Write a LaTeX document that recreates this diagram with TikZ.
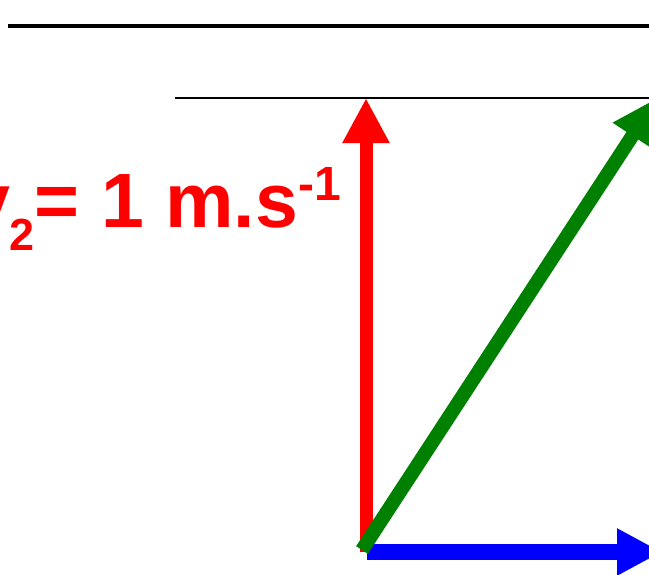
\documentclass[tikz,border=0pt]{standalone}
\usepackage{fontspec}
\setmainfont{Liberation Sans}
\usetikzlibrary{arrows.meta}
\definecolor{vred}{RGB}{255,0,0}
\definecolor{vgreen}{RGB}{0,128,0}
\definecolor{vblue}{RGB}{0,0,255}
\tikzset{vec/.style={-{Triangle[length=45pt,width=44pt]}}}
\begin{document}
\begin{tikzpicture}[x=1pt,y=-1pt]
\useasboundingbox (0,0) rectangle (649,574);
\clip (0,0) rectangle (649,574);
\coordinate (top1) at (8,26);
\coordinate (top2) at (660,26);
\coordinate (mid1) at (175,98);
\coordinate (mid2) at (660,98);
\coordinate (Ored) at (366,552);
\coordinate (Ogreen) at (362,550);
\coordinate (Oblue) at (367,552);
\coordinate (R) at (366,98);
\coordinate (G) at (657,98);
\coordinate (B) at (662,552);
\draw[line width=4pt] (top1) -- (top2);
\draw[line width=2pt] (mid1) -- (mid2);
\draw[vec, vred, line width=13pt] (Ored) -- (R);
\draw[vec, vblue, line width=16pt] (Oblue) -- (B);
\draw[vec, vgreen, line width=14pt] (Ogreen) -- (G);
\node[anchor=base east, text=vred, font=\bfseries\fontsize{77}{80}\selectfont, inner sep=0pt] (lbl) at (341,227) {v\raisebox{-23pt}{\fontsize{45}{45}\selectfont 2}= 1 m.s\raisebox{27pt}{\fontsize{48}{48}\selectfont -1}};
\end{tikzpicture}
\end{document}
